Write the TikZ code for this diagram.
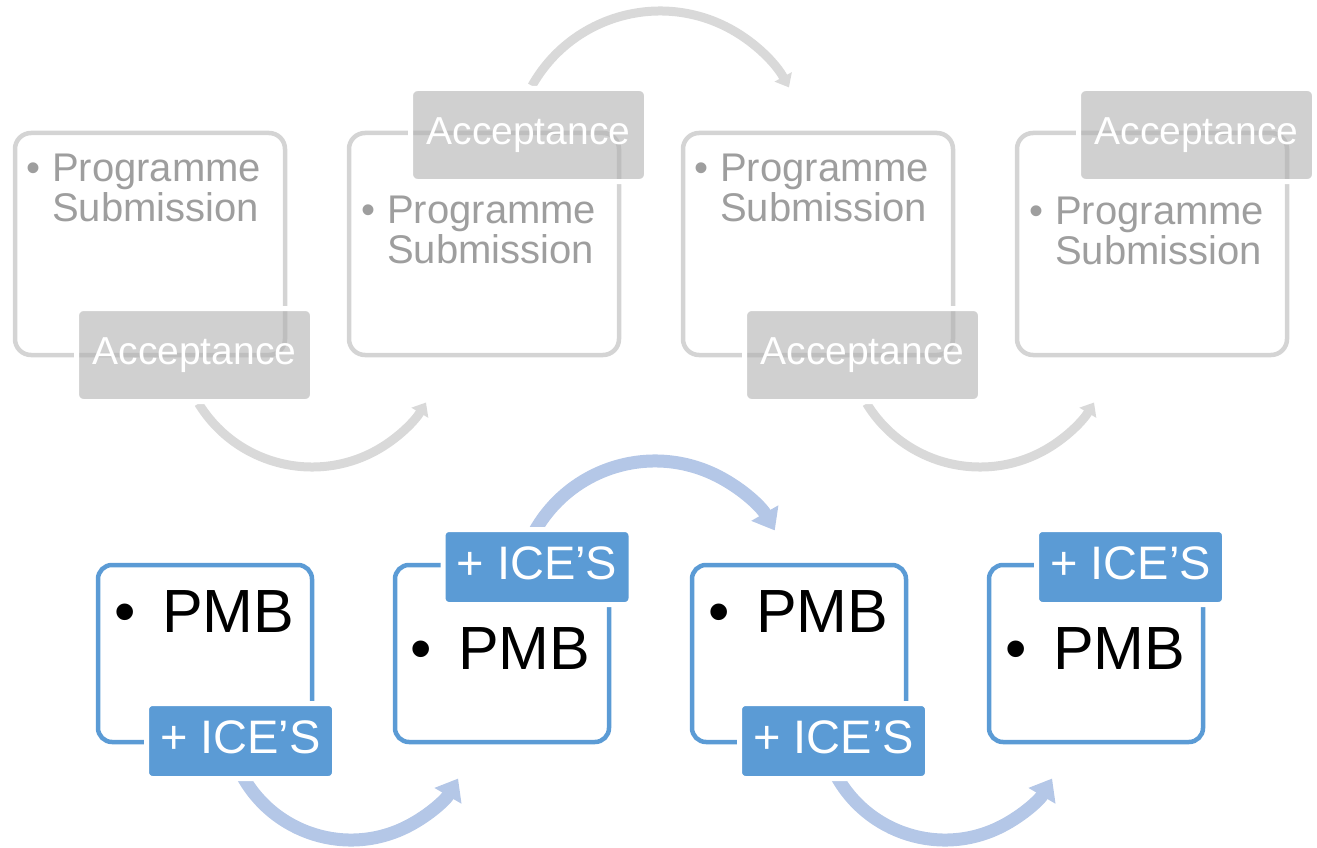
\documentclass[tikz,border=0pt]{standalone}
\usepackage{fontspec}
\setmainfont{Liberation Sans}
\usetikzlibrary{arrows.meta}
\definecolor{frameGray}{gray}{0.83}
\definecolor{labelGray}{gray}{0.69}
\definecolor{textGray}{gray}{0.62}
\definecolor{arrowGray}{gray}{0.85}
\definecolor{pmbBlue}{RGB}{91,155,213}
\definecolor{arrowBlue}{RGB}{180,199,231}
\begin{document}
\begin{tikzpicture}[x=1pt,y=-1pt,
  frameT/.style={draw=frameGray, line width=4.5pt, rounded corners=16pt, minimum width=270pt, minimum height=222pt, inner sep=0pt},
  labT/.style={fill=labelGray, fill opacity=0.6, text opacity=1, draw=white, draw opacity=1, line width=5pt, rounded corners=7pt, minimum width=236pt, minimum height=93pt, text=white, font=\fontsize{39}{39}\selectfont, inner sep=0pt},
  txtT/.style={anchor=base west, inner sep=0pt, text=textGray, align=left, font=\fontsize{40}{40}\selectfont},
  arrT/.style={draw=arrowGray, line width=9pt, -{Triangle[length=12pt,width=19pt]}},
  frameB/.style={draw=pmbBlue, line width=4.5pt, rounded corners=14pt, minimum width=214pt, minimum height=177pt, inner sep=0pt},
  labB/.style={fill=pmbBlue, draw=white, line width=5pt, rounded corners=6pt, minimum width=188pt, minimum height=75pt, text=white, font=\fontsize{47}{47}\selectfont, text depth=8pt, inner sep=0pt},
  txtB/.style={anchor=base west, inner sep=0pt, text=black, font=\fontsize{61}{61}\selectfont},
  arrB/.style={draw=arrowBlue, line width=13pt, -{Triangle[length=20pt,width=30pt]}}
]
\useasboundingbox (0,0) rectangle (1317,848);

% ---------- top row ----------
\node[frameT] (tf1) at (150,244) {};
\node[frameT] (tf2) at (484,244) {};
\node[frameT] (tf3) at (818,244) {};
\node[frameT] (tf4) at (1152,244) {};

\coordinate (ta1s) at ([shift={(148.5:133)}]312,334);
\coordinate (ta2s) at ([shift={(209.4:147)}]660,158);
\coordinate (ta3s) at ([shift={(148.5:133)}]980,334);
\draw[arrT] (ta1s) arc[start angle=148.5, end angle=31, radius=133];
\draw[arrT] (ta2s) arc[start angle=209.4, end angle=331.3, radius=147];
\draw[arrT] (ta3s) arc[start angle=148.5, end angle=31, radius=133];

\node[labT] (tl1) at (194.5,355) {Acceptance};
\node[labT] (tl2) at (528.5,135) {Acceptance};
\node[labT] (tl3) at (862.5,355) {Acceptance};
\node[labT] (tl4) at (1196.5,135) {Acceptance};

% base anchor of a two-line node sits on the last line
\node[txtT] (tt1) at (52,221) {\leavevmode\llap{•\hspace{12pt}}Programme\\Submission};
\node[txtT] (tt2) at (387,263) {\leavevmode\llap{•\hspace{12pt}}Programme\\Submission};
\node[txtT] (tt3) at (720,221) {\leavevmode\llap{•\hspace{12pt}}Programme\\Submission};
\node[txtT] (tt4) at (1055,264) {\leavevmode\llap{•\hspace{12pt}}Programme\\Submission};

% ---------- bottom row ----------
\node[frameB] (bf1) at (205,653.5) {};
\node[frameB] (bf2) at (502,653.5) {};
\node[frameB] (bf3) at (799,653.5) {};
\node[frameB] (bf4) at (1096,653.5) {};

\coordinate (ba1s) at ([shift={(155:124)}]351,716);
\coordinate (ba2s) at ([shift={(205:138)}]655,599);
\coordinate (ba3s) at ([shift={(155:124)}]945,716);
\draw[arrB] (ba1s) arc[start angle=155, end angle=30.3, radius=124];
\draw[arrB] (ba2s) arc[start angle=205, end angle=330.2, radius=138];
\draw[arrB] (ba3s) arc[start angle=155, end angle=30.3, radius=124];

\node[labB] (bl1) at (240.5,741) {+ ICE’S};
\node[labB] (bl2) at (537,567) {+ ICE’S};
\node[labB] (bl3) at (833.5,741) {+ ICE’S};
\node[labB] (bl4) at (1130.5,567) {+ ICE’S};

\node[txtB] (bt1) at (162,632) {\llap{•\hspace{26pt}}PMB};
\node[txtB] (bt2) at (458,669) {\llap{•\hspace{26pt}}PMB};
\node[txtB] (bt3) at (756,632) {\llap{•\hspace{26pt}}PMB};
\node[txtB] (bt4) at (1053,669) {\llap{•\hspace{26pt}}PMB};
\end{tikzpicture}
\end{document}
